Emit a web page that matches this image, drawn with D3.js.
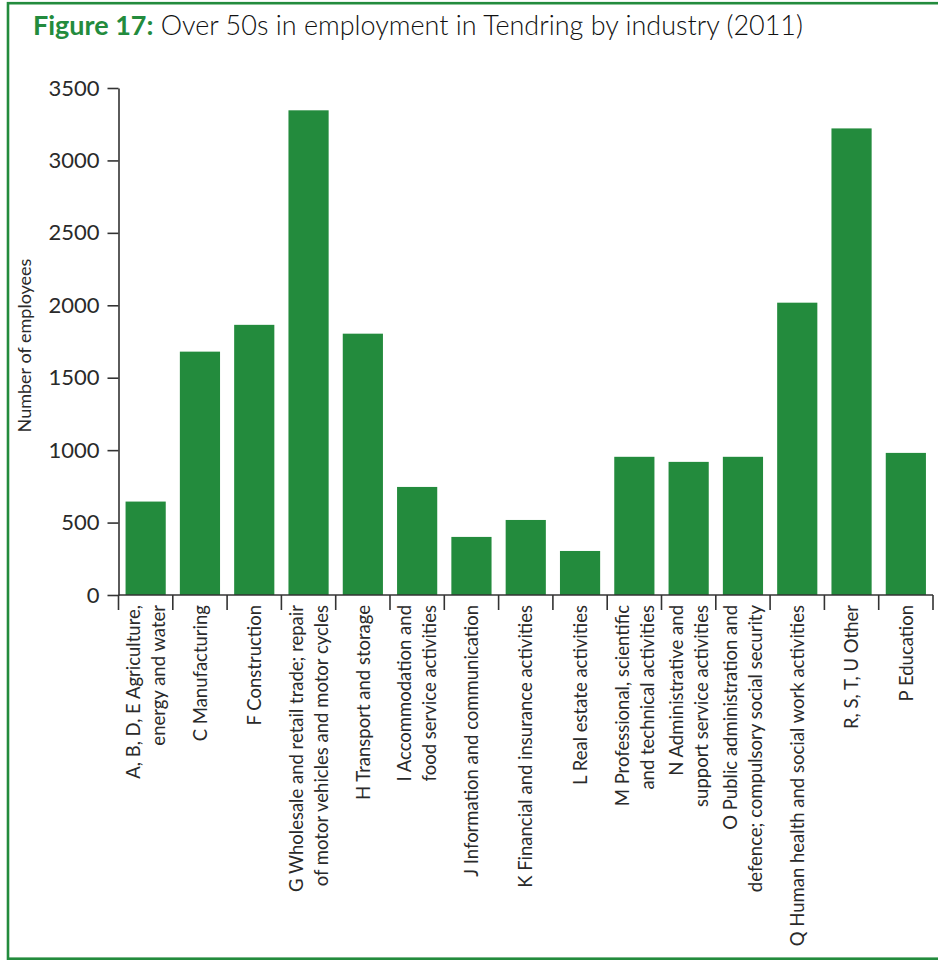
<!DOCTYPE html>
<html>
<head>
<meta charset="utf-8">
<script src="https://cdn.jsdelivr.net/npm/d3@7"></script>
<style>
  html, body { margin: 0; padding: 0; background: #fff; }
  svg { display: block; }
  text { font-family: Lato, "Open Sans", "DejaVu Sans", sans-serif; fill: #2a2a2a; }
</style>
</head>
<body>
<svg id="chart" width="938" height="960"></svg>
<script>
// Industry categories (each entry is the lines of its axis label)
const categories = [
  ["A, B, D, E Agriculture,", "energy and water"],
  ["C Manufacturing"],
  ["F Construction"],
  ["G Wholesale and retail trade; repair", "of motor vehicles and motor cycles"],
  ["H Transport and storage"],
  ["I Accommodation and", "food service activities"],
  ["J Information and communication"],
  ["K Financial and insurance activities"],
  ["L Real estate activities"],
  ["M Professional, scientific", "and technical activities"],
  ["N Administrative and", "support service activities"],
  ["O Public administration and", "defence; compulsory social security"],
  ["Q Human health and social work activities"],
  ["R, S, T, U Other"],
  ["P Education"]
];

// Over 50s in employment, by industry
const employees = [645, 1680, 1865, 3346, 1804, 746, 401, 518, 304, 954, 919, 954, 2018, 3221, 981];

const yTicks = [0, 500, 1000, 1500, 2000, 2500, 3000, 3500];

const titleBold = "Figure 17:";
const titleRest = " Over 50s in employment in Tendring by industry (2011)";
const yAxisTitle = "Number of employees";

const green = "#238b3d";
const axisColor = "#333";

const svg = d3.select("#chart");

// Frame
svg.append("rect")
  .attr("x", 8).attr("y", 3.2)
  .attr("width", 960).attr("height", 955.5)
  .attr("fill", "none")
  .attr("stroke", green)
  .attr("stroke-width", 2.6);

// Title
const title = svg.append("text")
  .attr("x", 33).attr("y", 35)
  .style("font-size", "27px");
title.append("tspan")
  .attr("font-weight", "bold")
  .style("fill", green)
  .text(titleBold);
title.append("tspan")
  .style("fill", "#111")
  .style("font-weight", 300)
  .text(titleRest);
// Condense the title to the printed width
(function fitTitle() {
  const w = title.node().getComputedTextLength();
  const target = 803 - 33;
  if (w > 0) title.attr("textLength", target).attr("lengthAdjust", "spacingAndGlyphs");
})();

const labels = categories.map(d => d.join(" "));

const x = d3.scaleBand()
  .domain(labels)
  .range([118.5, 933])
  .paddingInner(0.26)
  .paddingOuter(0.13);

const y = d3.scaleLinear()
  .domain([0, 3500])
  .range([595, 88]);

// Bars
svg.append("g")
  .selectAll("rect")
  .data(employees)
  .join("rect")
  .attr("x", (d, i) => x(labels[i]))
  .attr("y", d => y(d))
  .attr("width", x.bandwidth())
  .attr("height", d => y(0) - y(d))
  .attr("fill", green);

// Y axis
const yAxis = svg.append("g")
  .attr("transform", `translate(${x.range()[0]},0)`)
  .call(d3.axisLeft(y).tickValues(yTicks).tickFormat(d3.format("d"))
    .tickSize(11).tickSizeOuter(0).tickPadding(8));
yAxis.select(".domain").attr("stroke", axisColor).attr("stroke-width", 1.6);
yAxis.selectAll(".tick line").attr("stroke", axisColor).attr("stroke-width", 1.6);
yAxis.selectAll(".tick text")
  .style("font-size", "22px")
  .style("font-weight", 400)
  .style("fill", "#2a2a2a")
  .style("font-family", "Lato, sans-serif");

// X axis baseline with tick marks on the category boundaries
const gap = (x.step() - x.bandwidth()) / 2;
const boundaries = labels.map(l => x(l) - gap).concat([x.range()[1]]);
const xAxis = svg.append("g");
xAxis.append("line")
  .attr("x1", x.range()[0]).attr("x2", x.range()[1])
  .attr("y1", y(0)).attr("y2", y(0))
  .attr("stroke", axisColor).attr("stroke-width", 1.6);
xAxis.selectAll("line.tick")
  .data(boundaries)
  .join("line")
  .attr("class", "tick")
  .attr("x1", d => d).attr("x2", d => d)
  .attr("y1", y(0)).attr("y2", y(0) + 15)
  .attr("stroke", axisColor).attr("stroke-width", 1.6);

// Rotated category labels
const lineGap = 25;
const labelGroups = svg.append("g")
  .selectAll("g")
  .data(categories)
  .join("g")
  .attr("transform", (d, i) => `translate(${x(labels[i]) + x.bandwidth() / 2},${y(0) + 10}) rotate(-90)`);
labelGroups.each(function (lines) {
  const g = d3.select(this);
  const n = lines.length;
  lines.forEach((t, k) => {
    g.append("text")
      .attr("x", 0)
      .attr("y", (k - (n - 1) / 2) * lineGap)
      .attr("dy", "0.36em")
      .attr("text-anchor", "end")
      .style("font-size", "18.5px")
      .text(t);
  });
});

// Y axis title
svg.append("text")
  .attr("transform", `translate(31,${(y(0) + y(3500)) / 2 + 4}) rotate(-90)`)
  .attr("text-anchor", "middle")
  .style("font-size", "18px")
  .text(yAxisTitle);
</script>
</body>
</html>
